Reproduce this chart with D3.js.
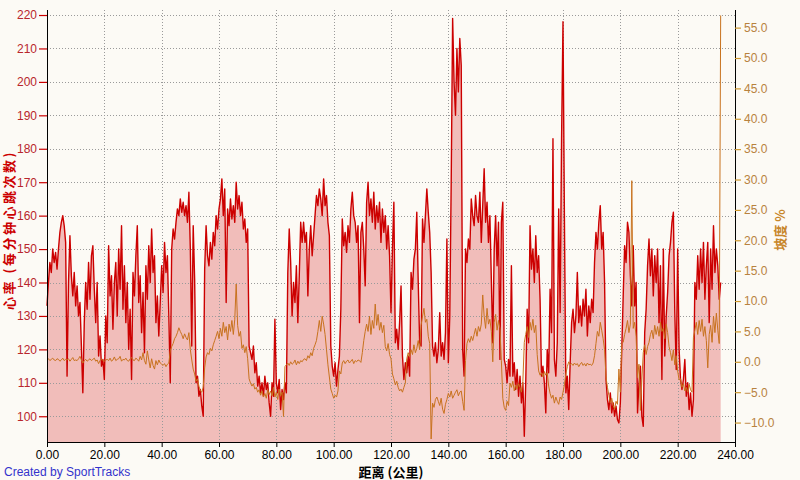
<!DOCTYPE html>
<html>
<head>
<meta charset="utf-8">
<script src="https://cdn.jsdelivr.net/npm/d3@7"></script>
<style>
  html, body { margin: 0; padding: 0; background: #FCFAF5; }
  svg { display: block; }
</style>
</head>
<body>
<svg id="chart" width="800" height="480"></svg>
<script>
// ---------------- DATA ----------------
const distanceStepKm = 0.5;              // samples every 0.5 km, 0 .. 235 km
const xTickValues = [0, 20, 40, 60, 80, 100, 120, 140, 160, 180, 200, 220, 240];
const hrTickValues = [100, 110, 120, 130, 140, 150, 160, 170, 180, 190, 200, 210, 220];
const gradeTickValues = [-10, -5, 0, 5, 10, 15, 20, 25, 30, 35, 40, 45, 50, 55];

const heartRate = [
  133,140,146,143,150,146,149,144,150,155,
  158,160,157,152,112,140,154,142,136,143,
  133,139,130,134,121,107,128,140,132,146,
  135,148,151,138,128,140,118,124,115,117,
  111,130,122,151,136,142,126,140,146,130,
  150,138,157,132,145,128,140,120,132,111,
  143,136,148,157,134,142,125,137,119,145,
  135,151,140,156,143,148,128,136,124,134,
  145,137,152,143,148,130,110,150,156,153,
  158,162,160,165,161,164,160,163,158,167,
  150,121,157,141,110,112,106,108,103,100,
  144,157,148,145,152,147,155,151,160,156,
  162,165,171,160,168,134,162,157,165,159,
  163,158,170,162,166,160,164,156,159,152,
  156,121,119,117,121,113,116,109,112,107,
  110,106,112,108,110,104,100,110,106,129,
  110,107,111,102,108,105,110,107,143,156,
  146,130,140,134,145,128,142,158,152,158,
  152,155,136,150,157,148,154,160,166,163,
  168,165,160,171,163,166,158,154,121,115,
  112,116,109,114,118,132,159,151,155,149,
  157,152,162,167,160,158,152,157,128,155,
  158,150,139,164,170,160,165,158,167,156,
  163,158,164,152,162,155,160,150,157,148,
  131,150,164,122,126,120,128,139,118,111,
  116,113,118,112,143,138,147,150,161,140,
  122,121,159,152,160,168,161,155,143,121,
  118,122,116,120,131,118,122,117,125,153,
  116,130,170,219,200,190,210,197,213,205,
  120,112,150,146,153,150,165,160,157,166,
  160,158,167,152,163,174,158,164,152,160,
  141,122,150,160,145,158,117,158,164,117,
  115,110,117,112,145,112,116,108,114,106,
  112,104,110,94,110,132,122,157,144,150,
  140,154,143,148,135,112,115,110,101,120,
  113,138,125,183,117,112,122,162,131,183,
  218,159,107,112,102,116,128,132,125,130,
  143,128,133,127,135,130,138,124,133,128,
  135,131,146,155,150,158,163,150,155,140,
  111,105,102,107,101,104,100,103,99,98,
  104,120,136,151,146,158,155,142,133,151,
  133,140,101,110,115,100,97,125,132,145,
  153,142,150,136,148,140,150,128,145,111,
  150,118,130,137,148,152,158,161,131,114,
  150,120,111,108,111,117,106,110,102,107,
  100,105,140,135,148,138,150,140,152,135,
  145,152,128,150,138,157,143,150,145,135,
  140
];

const grade = [
  0.3,0.5,0.2,0.4,0.6,0.3,0.2,0.5,0.4,0.1,
  0.3,0.6,0.2,0.4,0.3,0.5,0.1,0.4,0.7,0.2,
  0.3,0.2,0.5,0.9,0.3,-0.2,0.2,0.4,0.1,0.3,
  0.5,0.2,0.4,0.6,0.1,0.3,-0.3,0.2,0.5,0.2,
  0.1,0.3,0.4,0.2,0.6,0.1,0.3,0.8,0.2,0.4,
  0.5,0.9,0.1,0.4,0.3,0.6,0.2,0.1,0.5,0.7,
  0.3,0.2,0.6,0.4,0.1,0.9,0.3,1.5,0.2,-0.4,
  1.8,0.3,-1.0,0.5,-0.6,-1.2,0.2,-0.5,0.3,-0.2,
  -0.4,-0.6,-0.3,-0.8,-0.4,-0.2,1.8,2.5,3.0,3.8,
  4.2,4.8,5.6,5.0,4.5,3.8,4.6,4.0,3.6,4.8,
  2.0,0.3,-1.2,-2.0,-3.2,-2.8,-4.0,-4.8,-5.0,-4.2,
  -1.0,0.8,1.5,1.2,2.2,1.8,2.8,3.5,4.2,5.0,
  3.8,5.5,4.2,6.5,4.8,5.8,3.6,6.2,5.0,6.8,
  4.5,7.0,12.8,6.0,4.2,5.0,2.2,2.8,1.5,2.5,
  0.5,-2.8,-3.5,-4.0,-3.6,-4.5,-4.2,-5.0,-4.6,-5.5,
  -4.8,-5.8,-5.2,-6.0,-4.6,-5.4,-4.8,-5.6,-4.2,-5.8,
  -5.0,-6.2,-4.5,-5.6,-5.0,-9.0,-0.8,-0.5,-0.2,-0.6,
  0.0,-0.4,-0.2,0.3,-0.5,0.1,-0.3,0.2,0.0,0.4,
  0.5,0.2,1.0,0.6,1.5,1.0,2.2,2.8,3.5,5.0,
  6.8,5.0,7.5,6.2,4.5,2.0,-0.5,-2.5,-4.5,-5.2,
  -6.0,-5.5,-5.8,-4.8,-1.5,-2.0,-0.2,0.2,-0.3,0.1,
  0.3,-0.2,0.1,0.4,-0.3,0.2,0.0,0.3,0.2,-0.1,
  1.5,3.5,5.0,6.2,5.0,7.5,4.5,6.8,5.5,9.5,
  6.0,7.8,5.2,6.5,4.8,6.0,2.5,1.8,3.0,1.2,
  0.5,-2.0,-2.8,-3.8,-3.2,-4.2,-4.8,-4.5,-5.0,-4.2,
  -3.5,0.5,1.5,0.8,2.0,1.2,2.8,1.5,2.2,3.5,
  2.0,6.0,7.5,8.8,6.5,7.0,4.2,3.0,-12.7,-6.8,
  -7.5,-6.2,-5.8,-6.5,-7.2,-6.0,-7.8,-8.5,-7.0,-6.2,
  -5.2,-5.8,-4.8,-6.0,-5.5,-5.0,-4.6,-5.6,-5.0,-4.8,
  -6.5,-8.0,0.2,3.0,3.8,3.2,4.2,3.5,4.5,5.5,
  4.2,5.8,5.0,6.2,11.0,7.5,5.5,8.8,6.2,7.0,
  5.0,0.0,6.5,7.8,5.2,6.8,5.5,0.2,-6.0,-7.5,
  -8.0,-6.5,-7.2,-3.5,-4.2,-3.2,-4.8,-3.8,-4.5,-3.6,
  -4.2,-5.0,-3.2,3.2,4.5,5.8,4.0,6.5,5.2,7.0,
  4.8,6.0,1.2,-1.5,-2.2,-1.8,-2.5,-1.6,-2.2,-1.8,
  -4.0,-5.2,-6.0,-5.5,-6.8,-5.8,-6.5,-7.0,-5.8,-6.2,
  -5.0,-3.8,-2.0,-0.8,0.0,-0.5,-0.3,-0.6,-0.2,-0.5,
  -0.3,-0.8,-0.4,-0.1,-0.6,-0.3,-0.7,-0.2,-0.5,-0.4,
  -0.6,-0.2,1.0,3.0,5.0,4.2,6.5,5.2,3.8,2.0,
  -2.5,-4.2,-5.5,-6.8,-6.0,-7.2,-7.8,-6.5,-7.0,-1.2,
  -5.0,3.0,3.2,4.5,5.5,6.8,4.8,6.2,29.8,5.5,
  6.5,4.2,-2.6,-0.4,-8.0,-3.0,1.5,2.8,1.2,2.5,
  3.2,4.5,5.2,3.8,6.0,4.5,5.8,4.2,6.5,5.0,
  5.5,3.8,6.2,4.8,2.5,1.5,0.2,2.0,-0.5,1.0,
  -1.5,-3.0,-2.8,-4.2,-3.6,-4.8,-4.2,-5.0,-3.7,-4.6,
  -5.0,4.0,5.2,6.5,4.5,6.8,5.0,7.0,4.2,5.8,
  3.5,-1.0,4.5,6.0,3.2,7.5,4.8,8.0,5.2,3.0,
  57
];

// ---------------- CHART ----------------
(function () {
const svg = d3.select("#chart");
const W = 800, H = 480;
const pL = 47, pR = 735, pT = 10, pB = 442;

svg.append("rect").attr("width", W).attr("height", H).attr("fill", "#FCFAF5");

const x = d3.scaleLinear().domain([0, 240]).range([pL, pR]);
const yHR = d3.scaleLinear().domain([92.3, 221.5]).range([pB, pT]);
const yG = d3.scaleLinear().domain([-13.2, 57.9]).range([pB, pT]);

const hrData = heartRate.map((v, i) => ({ d: i * distanceStepKm, v }));
const gData = grade.map((v, i) => ({ d: i * distanceStepKm, v }));

// filled area under heart rate
svg.append("path")
  .datum(hrData)
  .attr("fill", "#F1BDBA")
  .attr("d", d3.area().x(p => x(p.d)).y0(pB).y1(p => yHR(p.v)));

// grid
const grid = svg.append("g").attr("stroke", "#9A9A9A").attr("stroke-dasharray", "1,2").attr("stroke-width", 1);
grid.selectAll("line.h").data(hrTickValues).join("line")
  .attr("x1", pL).attr("x2", pR)
  .attr("y1", d => Math.round(yHR(d)) + 0.5).attr("y2", d => Math.round(yHR(d)) + 0.5);
grid.selectAll("line.v").data(xTickValues.slice(1, -1)).join("line")
  .attr("y1", pT).attr("y2", pB)
  .attr("x1", d => Math.round(x(d)) + 0.5).attr("x2", d => Math.round(x(d)) + 0.5);

// heart rate line
svg.append("path")
  .datum(hrData)
  .attr("fill", "none")
  .attr("stroke", "#CC0000")
  .attr("stroke-width", 1.4)
  .attr("stroke-linejoin", "round")
  .attr("d", d3.line().x(p => x(p.d)).y(p => yHR(p.v)));

// grade line
svg.append("path")
  .datum(gData)
  .attr("fill", "none")
  .attr("stroke", "#C8721E")
  .attr("stroke-width", 1)
  .attr("stroke-linejoin", "round")
  .attr("d", d3.line().x(p => x(p.d)).y(p => yG(p.v)));

const font = "'Liberation Sans', Arial, sans-serif";

// left axis
const axL = svg.append("g").attr("transform", `translate(${pL},0)`)
  .call(d3.axisLeft(yHR).tickValues(hrTickValues).tickSize(8).tickPadding(2).tickFormat(d3.format("d")));
axL.select(".domain").attr("stroke", "#000").attr("d", `M0.5,${pT}V${pB}`);
axL.selectAll(".tick line").attr("stroke", "#CC0000").attr("stroke-width", 1.2);
axL.selectAll(".tick text").attr("fill", "#B8262C").style("font", `12px ${font}`);

// right axis
const axR = svg.append("g").attr("transform", `translate(${pR},0)`)
  .call(d3.axisRight(yG).tickValues(gradeTickValues).tickSize(6).tickPadding(3).tickFormat(d3.format(".1f")));
axR.select(".domain").attr("stroke", "#000").attr("d", `M0.5,${pT}V${pB}`);
axR.selectAll(".tick line").attr("stroke", "#D09A30").attr("stroke-width", 1.2);
axR.selectAll(".tick text").attr("fill", "#B8823E").style("font", `12px ${font}`);

// bottom axis
const axB = svg.append("g").attr("transform", `translate(0,${pB})`)
  .call(d3.axisBottom(x).tickValues(xTickValues).tickSize(5).tickPadding(3).tickFormat(d3.format(".2f")));
axB.select(".domain").attr("stroke", "#000").attr("d", `M${pL},0.5H${pR}`);
axB.selectAll(".tick line").attr("stroke", "#000");
axB.selectAll(".tick text").attr("fill", "#000").style("font", `12px ${font}`);

// titles
const cjk = "'Noto Sans CJK SC', 'Noto Sans', sans-serif";
svg.append("text")
  .attr("x", 391).attr("y", 477)
  .attr("text-anchor", "middle")
  .attr("fill", "#000")
  .style("font", `bold 13px ${cjk}`)
  .text("距离 (公里)");

svg.append("text")
  .attr("transform", "translate(14,230) rotate(-90)")
  .attr("text-anchor", "middle")
  .attr("fill", "#CC0000")
  .style("font", `bold 13px ${cjk}`)
  .style("letter-spacing", "2.5px")
  .text("心率 (每分钟心跳次数)");

svg.append("text")
  .attr("transform", "translate(785,230) rotate(-90)")
  .attr("text-anchor", "middle")
  .attr("fill", "#C8862A")
  .style("font", `bold 13px ${cjk}`)
  .text("坡度 %");

svg.append("text")
  .attr("x", 4).attr("y", 476)
  .attr("fill", "#3333CC")
  .style("font", `12px ${font}`)
  .text("Created by SportTracks");
})();
</script>
</body>
</html>
